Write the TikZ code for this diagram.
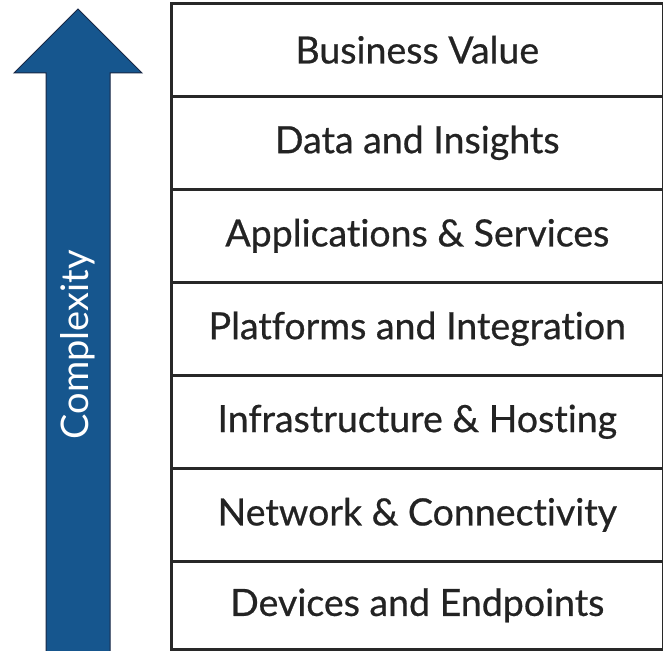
\documentclass[tikz,border=0pt]{standalone}
\usepackage{fontspec}
\setmainfont[RawFeature={-liga;-dlig;-clig}]{Lato}
\newfontfamily\layerfont[FakeBold=0.6,RawFeature={-liga;-dlig;-clig}]{Lato}
\definecolor{arrowblue}{RGB}{22,86,142}
\definecolor{arrowedge}{RGB}{25,40,70}
\definecolor{linegray}{RGB}{40,40,40}
\definecolor{textgray}{RGB}{35,35,35}
\begin{document}
\begin{tikzpicture}[x=1pt,y=-1pt,
  layerbox/.style={draw=linegray,line width=2.6pt,minimum width=492pt,minimum height=93pt,inner sep=0pt,
    font=\layerfont\fontsize{37.5}{40}\selectfont,text=textgray,anchor=north west}]
\useasboundingbox (0,0) rectangle (663,650);
\fill[white] (0,0) rectangle (663,650);
% arrow
\draw[fill=arrowblue,draw=arrowedge,line width=1pt,line join=miter]
  (46,652) -- (46,73) -- (14,73) -- (78,9) -- (142,73) -- (110,73) -- (110,652);
\node[rotate=90,text=white,font=\fontsize{38}{40}\selectfont] (cx) at (78,345) {Complexity};
% layers
\node[layerbox] (l1) at (170,2) {Business Value};
\node[layerbox] (l2) at (170,95) {Data and Insights};
\node[layerbox] (l3) at (170,188) {Applications \& Services};
\node[layerbox] (l4) at (170,281) {Platforms and Integration};
\node[layerbox] (l5) at (170,374) {Infrastructure \& Hosting};
\node[layerbox] (l6) at (170,467) {Network \& Connectivity};
\node[layerbox,minimum height=88pt] (l7) at (170,560) {Devices and Endpoints};
\end{tikzpicture}
\end{document}
